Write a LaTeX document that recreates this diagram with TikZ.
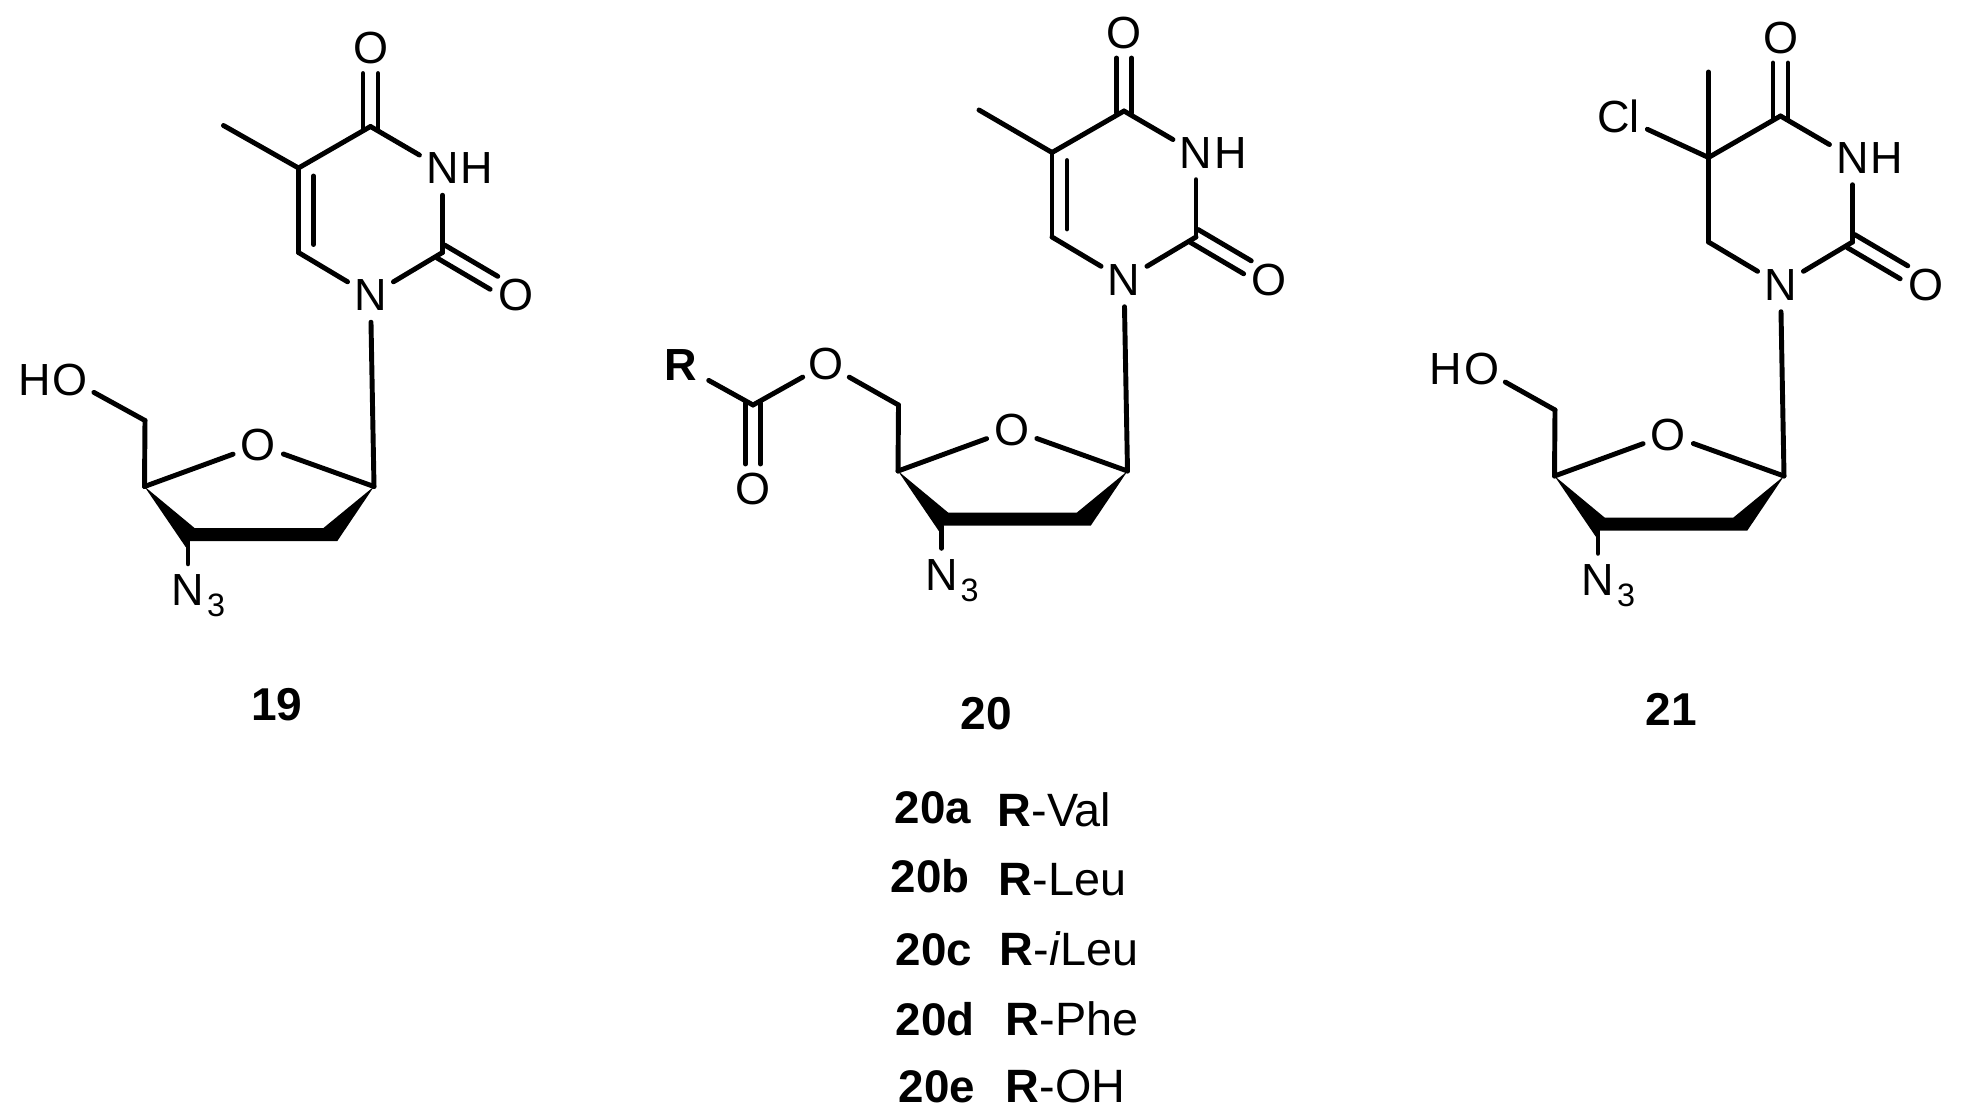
\documentclass[tikz,border=0pt]{standalone}
\usepackage{fontspec}
\setmainfont{Liberation Sans}
\usetikzlibrary{calc}
\tikzset{
  bond/.style={line width=1.4pt,line cap=round,line join=round,black},
  atom/.style={circle,inner sep=0pt,minimum size=0.52cm,font=\fontsize{12.8}{15}\selectfont},
  bigatom/.style={atom,minimum size=0.62cm},
  caption/.style={inner sep=0pt,font=\fontsize{13.1}{15}\selectfont\bfseries},
  rowtext/.style={anchor=base west,inner sep=0pt,font=\fontsize{13.3}{15}\selectfont},
  rowtag/.style={rowtext,font=\fontsize{13}{15}\selectfont}
}
\newcommand{\threelabel}{N\rlap{\kern0.8pt\smash{\raisebox{-3.1pt}{\fontsize{9.2}{10}\selectfont 3}}}}
\newcommand{\hlabel}{N\rlap{\kern0.6pt H}}
\newcommand{\holabel}{\llap{H\kern0.6pt}O}
% double bond with the two lines either side of the axis, b is a label
\newcommand{\sidebonds}[2]{%
  \draw[bond,shorten >=0.25cm,shorten <=-0.02cm] ($(#1.center)!0.075cm!90:(#2.center)$) -- ($(#2.center)!0.075cm!-90:(#1.center)$);
  \draw[bond,shorten >=0.25cm,shorten <=-0.02cm] ($(#1.center)!0.075cm!-90:(#2.center)$) -- ($(#2.center)!0.075cm!90:(#1.center)$);}
% pyrimidine ring and azido sugar shared by the three structures
\newcommand{\coreparts}{%
  \node[atom] (None) at (0,0) {N};
  \node[atom] (Nthree) at (72,-127) {\hlabel};
  \node[atom] (Ofour) at (0,-247) {O};
  \node[atom] (Otwo) at (145,0) {O};
  \node[atom] (Oring) at (-112.3,149.5) {O};
  \node[atom] (Nazide) at (-182.5,295) {\threelabel};
  \coordinate (Cfour) at (0,-169);
  \coordinate (Cfive) at (-72,-127.5);
  \coordinate (Csix) at (-72,-43);
  \coordinate (Ctwo) at (72,-43);
  \coordinate (Ca) at (3.5,191);
  \coordinate (Cd) at (-226,191);
  \coordinate (Ce) at (-225.5,125);
  \coordinate (Wa) at (-175.7,232.7);
  \coordinate (Wb) at (-47.3,232.7);
  \coordinate (Wc) at (-33.3,245.7);
  \coordinate (Wd) at (-181,245.7);
  \coordinate (We) at (-184.7,251.7);
  \coordinate (Cc) at (-182.5,246);
  \fill[line join=round] (Cd) -- (Wa) -- (Wb) -- (Ca) -- (Wc) -- (Wd) -- (We) -- cycle;
  \draw[bond] (Nazide) -- (Cc);
  \draw[bond] (Csix) -- (None);
  \draw[bond] (None) -- (Ctwo);
  \draw[bond] (Ctwo) -- (Nthree);
  \draw[bond] (Nthree) -- (Cfour);
  \draw[bond] (Cfour) -- (Cfive);
  \draw[bond] (Cfive) -- (Csix);
  \draw[bond] (None) -- (Ca);
  \draw[bond] (Ca) -- (Oring);
  \draw[bond] (Oring) -- (Cd);
  \draw[bond] (Cd) -- (Ce);
  \sidebonds{Cfour}{Ofour}
  \sidebonds{Ctwo}{Otwo}
}
\newcommand{\innerbond}{%
  \draw[bond,shorten >=0.08cm,shorten <=0.08cm] ($(Cfive)!0.15cm!90:(Csix)$) -- ($(Csix)!0.15cm!-90:(Cfive)$);}
\begin{document}
\begin{tikzpicture}[x=0.01cm,y=-0.01cm]
\useasboundingbox (0,0) rectangle (1964,1118);
% 19
\begin{scope}[shift={(370.5,295.5)},name prefix=a-]
  \coreparts
  \innerbond
  \coordinate (Me) at (-147,-170);
  \node[atom] (OH) at (-300,84) {\holabel};
  \draw[bond] (Cfive) -- (Me);
  \draw[bond] (Ce) -- (OH);
\end{scope}
% 20
\begin{scope}[shift={(1124,280)},name prefix=b-]
  \coreparts
  \innerbond
  \coordinate (Me) at (-145,-170);
  \node[atom] (Oest) at (-298,84) {O};
  \coordinate (Cco) at (-371,125);
  \node[atom] (Oco) at (-371,209) {O};
  \node[bigatom,font=\fontsize{12.8}{15}\selectfont\bfseries] (R) at (-443,85) {R};
  \draw[bond] (Cfive) -- (Me);
  \draw[bond] (Ce) -- (Oest);
  \draw[bond] (Oest) -- (Cco);
  \draw[bond] (Cco) -- (R);
  \sidebonds{Cco}{Oco}
\end{scope}
% 21
\begin{scope}[shift={(1780.5,285)},name prefix=c-]
  \coreparts
  \coordinate (Me) at (-72,-213);
  \node[bigatom] (Cl) at (-162,-169) {Cl};
  \node[atom] (OH) at (-298.5,84) {\holabel};
  \draw[bond] (Cfive) -- (Me);
  \draw[bond] (Cfive) -- (Cl);
  \draw[bond] (Ce) -- (OH);
\end{scope}
% captions
\node[caption] (lab19) at (277,705) {19};
\node[caption] (lab20) at (986,714) {20};
\node[caption] (lab21) at (1671,709) {21};
% list
\node[rowtag] (ra) at (894,823) {\textbf{20a}};
\node[rowtext] (va) at (997,826) {\textbf{R}-Val};
\node[rowtag] (rb) at (890,892) {\textbf{20b}};
\node[rowtext] (vb) at (998,895) {\textbf{R}-Leu};
\node[rowtag] (rc) at (895,965) {\textbf{20c}};
\node[rowtext] (vc) at (999,965) {\textbf{R}-\textit{i}Leu};
\node[rowtag] (rd) at (895,1035) {\textbf{20d}};
\node[rowtext] (vd) at (1005,1035) {\textbf{R}-Phe};
\node[rowtag] (re) at (898,1102) {\textbf{20e}};
\node[rowtext] (ve) at (1005,1102) {\textbf{R}-OH};
\end{tikzpicture}
\end{document}
